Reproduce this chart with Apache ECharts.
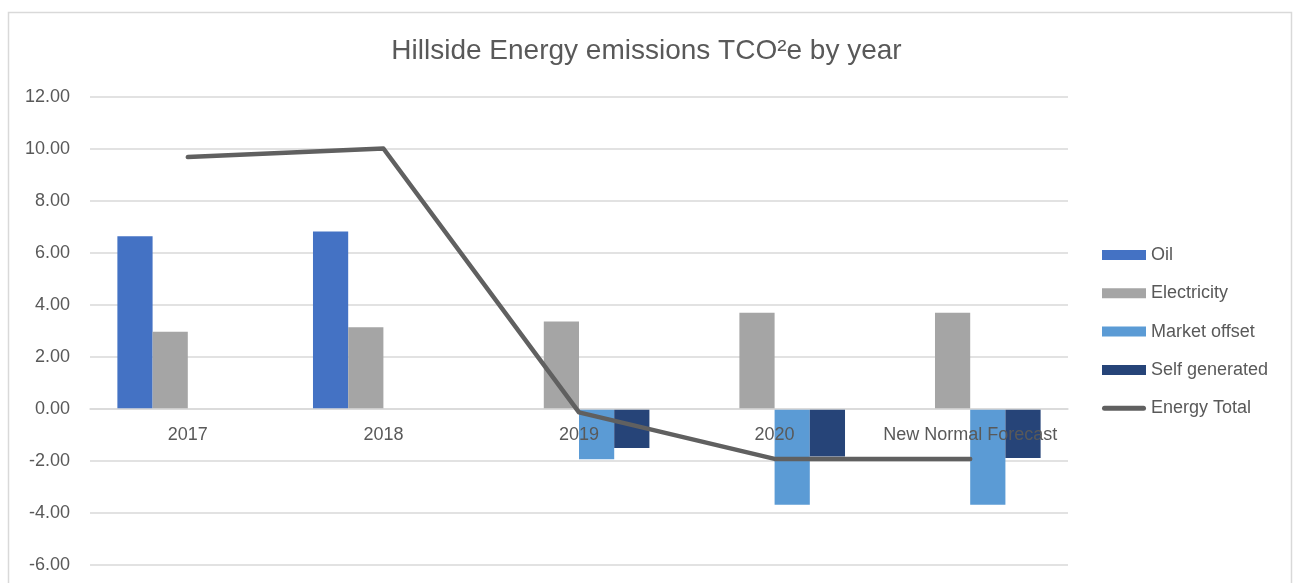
<!DOCTYPE html>
<html>
<head>
<meta charset="utf-8">
<script src="https://cdn.jsdelivr.net/npm/echarts@6/dist/echarts.min.js"></script>
<style>
  html, body { margin: 0; padding: 0; background: #fff; }
  #chart { width: 1293px; height: 583px; }
</style>
</head>
<body>
<div id="chart"></div>
<script>
// 数据
const categories = ['2017', '2018', '2019', '2020', 'New Normal Forecast']
const oil = [6.64, 6.83, null, null, null]
const electricity = [2.97, 3.14, 3.37, 3.7, 3.7]
const marketOffset = [null, null, -1.93, -3.68, -3.68]
const selfGenerated = [null, null, -1.5, -1.83, -1.88]
const energyTotal = [9.69, 10.02, -0.13, -1.92, -1.92]
const yMin = -6
const yMax = 12
const yStep = 2

const font = '"Liberation Sans", Arial, sans-serif'
const textColor = '#595959'
const lineColor = '#606060'

const myChart = echarts.init(document.getElementById('chart'))

// 绘图区
const gridTop = 97
const gridBottom = 18
const gridHeight = 583 - gridTop - gridBottom
// x轴放在0刻度处(标签跟着走)
const zeroOffset = -gridHeight * (0 - yMin) / (yMax - yMin)

const barSeries = (name, data, color) => ({
  name,
  type: 'bar',
  data,
  barGap: '0%',
  barCategoryGap: '28%',
  itemStyle: { color },
})

const options = {
  animation: false,
  // 外边框
  graphic: [
    {
      type: 'rect',
      shape: { x: 8.5, y: 12.5, width: 1283, height: 600 },
      style: { fill: 'none', stroke: '#d9d9d9', lineWidth: 1.5 },
      silent: true,
    },
  ],
  title: {
    text: 'Hillside Energy emissions TCO²e by year',
    left: 'center',
    top: 32,
    textStyle: {
      color: textColor,
      fontFamily: font,
      fontWeight: 'normal',
      fontSize: 28,
    },
  },
  legend: {
    orient: 'vertical',
    left: 1102,
    top: 246,
    padding: 0,
    itemWidth: 44,
    itemHeight: 10,
    itemGap: 20.3,
    data: [
      { name: 'Oil', icon: 'rect' },
      { name: 'Electricity', icon: 'rect' },
      { name: 'Market offset', icon: 'rect' },
      { name: 'Self generated', icon: 'rect' },
      // 折线图例: 粗圆头线段
      {
        name: 'Energy Total',
        icon: 'path://M2.5,0 L41.5,0 A2.5,2.5 0 0 1 41.5,5 L2.5,5 A2.5,2.5 0 0 1 2.5,0 Z',
        itemStyle: { color: lineColor },
      },
    ],
    textStyle: { color: textColor, fontFamily: font, fontSize: 18, lineHeight: 18 },
  },
  grid: {
    left: 90,
    right: 225,
    top: gridTop,
    bottom: gridBottom,
    outerBoundsMode: 'none',
  },
  xAxis: {
    type: 'category',
    data: categories,
    offset: zeroOffset,
    axisLine: { onZero: false, lineStyle: { color: '#d9d9d9', width: 1.5 } },
    axisTick: { show: false },
    axisLabel: {
      color: textColor,
      fontFamily: font,
      fontSize: 18,
      margin: 17,
      interval: 0,
    },
    z: 3,
  },
  yAxis: {
    type: 'value',
    min: yMin,
    max: yMax,
    interval: yStep,
    axisLine: { show: false },
    axisTick: { show: false },
    splitLine: { lineStyle: { color: '#d9d9d9', width: 1.5 } },
    axisLabel: {
      color: textColor,
      fontFamily: font,
      fontSize: 18,
      margin: 20,
      formatter: (v) => v.toFixed(2),
    },
  },
  series: [
    barSeries('Oil', oil, '#4472C4'),
    barSeries('Electricity', electricity, '#A5A5A5'),
    barSeries('Market offset', marketOffset, '#5B9BD5'),
    barSeries('Self generated', selfGenerated, '#264478'),
    {
      name: 'Energy Total',
      type: 'line',
      data: energyTotal,
      symbol: 'none',
      lineStyle: { color: lineColor, width: 4.5, cap: 'round', join: 'round' },
      itemStyle: { color: lineColor },
      z: 5,
    },
  ],
}

myChart.setOption(options)
</script>
</body>
</html>
